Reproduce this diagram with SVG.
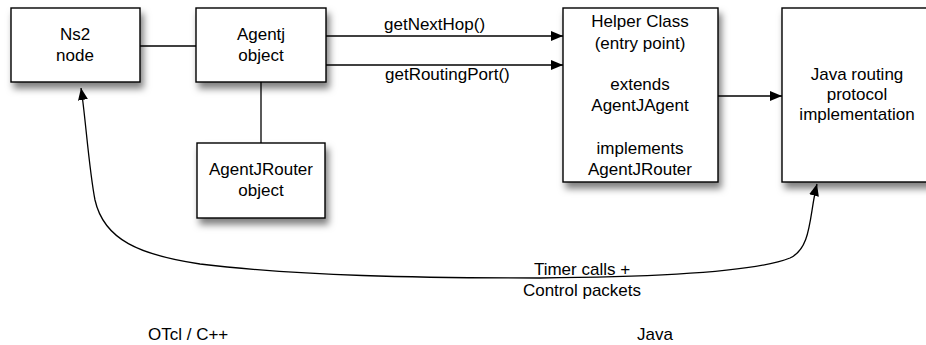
<svg xmlns="http://www.w3.org/2000/svg" width="926" height="345" viewBox="0 0 926 345">
<style>
.box{fill:#fff;stroke:#000;stroke-width:1.4;filter:url(#sh)}
.t{font-family:"Liberation Sans",Arial,sans-serif;font-size:17px;fill:#000;text-anchor:middle}
.tl{font-family:"Liberation Sans",Arial,sans-serif;font-size:17px;fill:#000}
.ln{fill:none;stroke:#000;stroke-width:1.3}
</style>
<defs>
<filter id="sh" x="-20%" y="-20%" width="150%" height="150%">
<feDropShadow dx="3" dy="6" stdDeviation="3.5" flood-color="#000" flood-opacity="0.5"/>
</filter>
<marker id="ah" viewBox="0 0 12 10" refX="12" refY="5" markerWidth="12" markerHeight="10" markerUnits="userSpaceOnUse" orient="auto-start-reverse">
<path d="M0,0 L12,5 L0,10 z" fill="#000"/>
</marker>
</defs>
<g id="connectors">
<line class="ln" x1="140" y1="46" x2="196" y2="46"/>
<line class="ln" x1="261" y1="82" x2="261" y2="143"/>
<line class="ln" x1="326" y1="36" x2="563" y2="36" marker-end="url(#ah)"/>
<line class="ln" x1="326" y1="65" x2="563" y2="65" marker-end="url(#ah)"/>
<line class="ln" x1="718" y1="96" x2="782" y2="96" marker-end="url(#ah)"/>
<path class="ln" d="M81,88 C85,112 89,170 95,200 C104,240 140,255 200,264 C300,276 420,278 540,278 C680,277 760,270 790,258 C812,248 809,215 817,184" marker-start="url(#ah)" marker-end="url(#ah)"/>
<text class="tl" x="384" y="30">getNextHop()</text>
<text class="tl" x="385" y="80">getRoutingPort()</text>
<text class="t" x="582" y="275">Timer calls +</text>
<text class="t" x="582" y="296">Control packets</text>
</g>
<g id="ns2">
<rect class="box" x="11" y="8" width="129" height="74"/>
<text class="t" x="75" y="40">Ns2</text>
<text class="t" x="75" y="61">node</text>
</g>
<g id="agentj">
<rect class="box" x="196" y="8" width="130" height="74"/>
<text class="t" x="261" y="40">Agentj</text>
<text class="t" x="261" y="61">object</text>
</g>
<g id="router">
<rect class="box" x="197" y="143" width="128" height="75"/>
<text class="t" x="261" y="175">AgentJRouter</text>
<text class="t" x="261" y="196">object</text>
</g>
<g id="helper">
<rect class="box" x="563" y="8" width="155" height="174"/>
<text class="t" x="640" y="27">Helper Class</text>
<text class="t" x="640" y="49">(entry point)</text>
<text class="t" x="640" y="90">extends</text>
<text class="t" x="640" y="111">AgentJAgent</text>
<text class="t" x="640" y="154">implements</text>
<text class="t" x="640" y="175">AgentJRouter</text>
</g>
<g id="java">
<rect class="box" x="782" y="8" width="150" height="174"/>
<text class="t" x="857" y="80">Java routing</text>
<text class="t" x="857" y="100">protocol</text>
<text class="t" x="857" y="120">implementation</text>
</g>
<text class="tl" x="148" y="340">OTcl / C++</text>
<text class="tl" x="637" y="340">Java</text>
</svg>
